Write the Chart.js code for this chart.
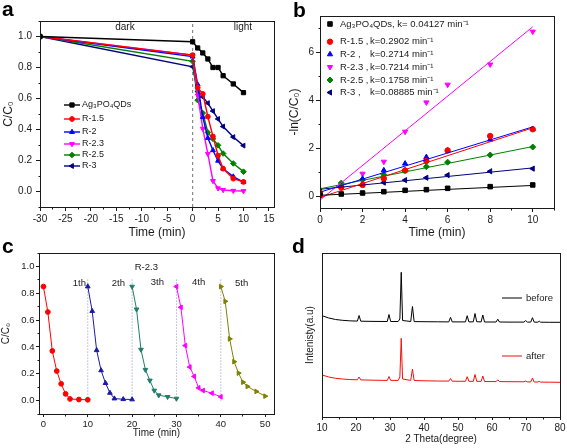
<!DOCTYPE html>
<html>
<head>
<meta charset="utf-8">
<script src="https://cdn.jsdelivr.net/npm/chart.js@4.4.1/dist/chart.umd.min.js"></script>
<style>
  body { margin: 0; background: #fff; }
  #wrap { position: relative; width: 567px; height: 448px; overflow: hidden; background: #fff; }
  canvas { position: absolute; }
  .tag { position: absolute; font: bold 21px 'Liberation Sans', Arial, sans-serif; line-height: 21px; color: #000; }
</style>
</head>
<body>
<div id="wrap">
  <canvas id="chartA" width="283" height="240" style="left:0;top:0;width:283px;height:240px"></canvas>
  <canvas id="chartB" width="284" height="240" style="left:283px;top:0;width:284px;height:240px"></canvas>
  <canvas id="chartC" width="283" height="208" style="left:0;top:240px;width:283px;height:208px"></canvas>
  <canvas id="chartD" width="284" height="208" style="left:283px;top:240px;width:284px;height:208px"></canvas>
  <div class="tag" style="left:2px;top:-2px">a</div>
  <div class="tag" style="left:293px;top:-1px">b</div>
  <div class="tag" style="left:2px;top:235px">c</div>
  <div class="tag" style="left:292px;top:235px">d</div>
</div>
<script>
const FONT = "'Liberation Sans', Arial, sans-serif";
const INK = '#1a1a1a';

// panel a - C/C0 in the dark, then under light
const timeA = [-30, 0, 1, 2, 3, 4, 5, 6, 8, 10];
const agA   = [1.00, 0.966, 0.926, 0.894, 0.855, 0.800, 0.800, 0.747, 0.694, 0.638];
const r15A  = [1.00, 0.880, 0.670, 0.630, 0.483, 0.355, 0.232, 0.147, 0.083, 0.062];
const r2A   = [1.00, 0.870, 0.690, 0.480, 0.345, 0.266, 0.198, 0.147, 0.096, 0.060];
const r23A  = [1.00, 0.880, 0.620, 0.405, 0.243, 0.068, 0.021, 0.010, 0.005, 0.003];
const r25A  = [1.00, 0.840, 0.589, 0.506, 0.381, 0.340, 0.298, 0.245, 0.181, 0.128];
const r3A   = [1.00, 0.805, 0.645, 0.610, 0.570, 0.519, 0.468, 0.419, 0.351, 0.296];
const xTicksA = [-30, -25, -20, -15, -10, -5, 0, 5, 10, 15];
const yTicksA = [0, 0.2, 0.4, 0.6, 0.8, 1.0];
const xRangeA = [-30, 16];
const yRangeA = [-0.1, 1.1];
const lightOnA = 0;

// panel b - -ln(C/C0) and linear fits
const timeB = [0, 1, 2, 3, 4, 5, 6, 8, 10];
const agB   = [0.035, 0.083, 0.125, 0.18, 0.236, 0.264, 0.32, 0.39, 0.46];
const r15B  = [0.13, 0.36, 0.46, 0.73, 1.06, 1.46, 1.90, 2.50, 2.78];
const r2B   = [0.14, 0.43, 0.72, 1.07, 1.35, 1.62, 1.90, 2.35, 2.79];
const r23B  = [0.13, 0.45, 0.93, 1.43, 2.68, 3.90, 4.64, 5.48, 6.85];
const r25B  = [0.17, 0.54, 0.68, 0.89, 1.07, 1.22, 1.41, 1.71, 2.04];
const r3B   = [0.22, 0.43, 0.47, 0.56, 0.66, 0.76, 0.87, 1.03, 1.14];
const fitX   = [0, 10];
const agFit  = [0.03, 0.44];
const r15Fit = [-0.06, 2.84];
const r2Fit  = [0.16, 2.88];
const r23Fit = [-0.17, 7.05];
const r25Fit = [0.30, 2.06];
const r3Fit  = [0.28, 1.17];
const xTicksB = [0, 2, 4, 6, 8, 10];
const yTicksB = [0, 2, 4, 6];
const xRangeB = [0, 11];
const yRangeB = [-0.5, 7.5];

// panel c - five reuse cycles of R-2.3
const runT1 = [0, 1, 2, 3, 4, 5, 6, 8, 10];
const runT2 = [10, 11, 12, 13, 14, 15, 16, 18, 20];
const runT3 = [20, 21, 22, 23, 24, 25, 26, 28, 30];
const runT4 = [30, 31, 32, 33, 34, 35, 36, 38, 40];
const runT5 = [40, 41, 42, 43, 44, 45, 46, 48, 50];
const run1 = [0.85, 0.66, 0.37, 0.22, 0.125, 0.05, 0.012, 0.008, 0.006];
const run2 = [0.85, 0.667, 0.375, 0.225, 0.13, 0.057, 0.015, 0.01, 0.008];
const run3 = [0.85, 0.68, 0.38, 0.23, 0.15, 0.075, 0.04, 0.028, 0.015];
const run4 = [0.85, 0.695, 0.41, 0.25, 0.18, 0.095, 0.075, 0.055, 0.028];
const run5 = [0.85, 0.74, 0.46, 0.29, 0.205, 0.137, 0.105, 0.068, 0.033];
const cycleStarts = [10, 20, 30, 40];
const cycleSpan = [0, 0.91];
const xTicksC = [0, 10, 20, 30, 40, 50];
const yTicksC = [0, 0.2, 0.4, 0.6, 0.8, 1.0];
const xRangeC = [-1, 52];
const yRangeC = [-0.1, 1.1];

// panel d - XRD before / after
const twoTheta = [10, 12, 14, 16, 18, 20.4, 20.9, 21.4, 25, 29.2, 29.7, 30.2, 32.4, 32.9, 33.3, 33.7,
  36.1, 36.6, 37.1, 40, 44, 47.3, 47.8, 48.3, 52.2, 52.7, 53.2, 54.5, 55.0, 55.5, 56.8, 57.3, 57.8,
  61.2, 61.7, 62.2, 65, 69.4, 69.9, 70.4, 71.4, 71.9, 72.4, 73.5, 73.9, 74.3, 77, 80];
const beforeI = [101.3, 99, 97.5, 96.7, 96.2, 95.9, 101.5, 95.8, 95.6, 95.5, 102.5, 95.5, 95.5, 98, 144.7, 96.5,
  95.5, 110.5, 95.4, 95.3, 95.2, 95.1, 99.7, 95.1, 95.1, 101.3, 95.1, 95.2, 103.5, 95.3, 95.1, 102, 95,
  95, 97.8, 95, 94.9, 94.9, 96.4, 94.9, 94.9, 99.3, 94.9, 94.8, 95.8, 94.8, 94.7, 94.7];
const afterI = [42, 40, 38.7, 38, 37.5, 37.2, 40, 37.1, 36.8, 36.6, 40.5, 36.6, 36.6, 40, 78.7, 38,
  36.6, 48, 36.5, 36.2, 36, 35.9, 38.5, 35.8, 35.7, 40.3, 35.7, 35.7, 42.5, 35.7, 35.6, 41, 35.5,
  35.4, 37.2, 35.4, 35.3, 35.2, 36, 35.1, 35.1, 39, 35, 35, 35.6, 34.9, 34.8, 34.7];
const xTicksD = [10, 20, 30, 40, 50, 60, 70, 80];
const xRangeD = [10, 80];
const yRangeD = [0, 164];

const pts = (xs, ys) => xs.map((x, i) => ({ x, y: ys[i] }));

function axis(o) {
  const horiz = o.pos === 'bottom';
  return {
    type: 'linear', position: o.pos, min: o.range[0], max: o.range[1],
    afterBuildTicks: s => { s.ticks = o.ticks.map(v => ({ value: v })); },
    afterFit: s => {
      if (horiz) s.height = o.box; else s.width = o.box;
      s.paddingLeft = s.paddingRight = s.paddingTop = s.paddingBottom = 0;
    },
    border: { display: false },
    grid: { display: true, drawOnChartArea: false, drawTicks: o.tick > 0, tickLength: o.tick || 0, tickColor: INK, tickWidth: 1 },
    ticks: { display: o.labels !== false, color: INK, font: { size: o.size }, padding: o.pad, maxRotation: 0, autoSkip: false, callback: o.fmt },
    title: { display: true, text: o.title, color: INK, font: { size: o.tSize }, padding: o.tPad }
  };
}

// box round the plot plus the short minor ticks
const framePlugin = {
  id: 'frame',
  afterDraw(chart, args, opts) {
    const { ctx, chartArea: a, scales } = chart;
    const al = p => Math.round(p - 0.5) + 0.5;
    const L = al(a.left), R = al(a.right), T = al(a.top), B = al(a.bottom);
    ctx.save();
    ctx.strokeStyle = INK;
    ctx.lineWidth = 1;
    ctx.strokeRect(L, T, R - L, B - T);
    const minor = (scale, step, horiz) => {
      if (!step) return;
      const k0 = Math.ceil(scale.min / step - 1e-9), k1 = Math.floor(scale.max / step + 1e-9);
      ctx.beginPath();
      for (let k = k0; k <= k1; k++) {
        const v = k * step;
        if (scale.ticks.some(t => Math.abs(t.value - v) < 1e-9)) continue;
        const p = al(scale.getPixelForValue(v));
        if (horiz) { ctx.moveTo(p, B); ctx.lineTo(p, B + 2); }
        else { ctx.moveTo(L, p); ctx.lineTo(L - 2, p); }
      }
      ctx.stroke();
    };
    minor(scales.x, opts.minorX, true);
    minor(scales.y, opts.minorY, false);
    ctx.restore();
  }
};

// in-plot key: line sample and/or marker, then text
const keyPlugin = {
  id: 'key',
  afterDraw(chart, args, o) {
    if (!o.rows) return;
    const ctx = chart.ctx;
    ctx.save();
    ctx.font = o.size + 'px ' + FONT;
    ctx.textBaseline = 'middle';
    let r = 0;
    chart.data.datasets.forEach(ds => {
      if (!ds.label) return;
      const y = o.rows[r++];
      ctx.strokeStyle = ds.borderColor;
      ctx.fillStyle = ds.borderColor;
      if (o.line) {
        ctx.lineWidth = ds.borderWidth;
        ctx.beginPath(); ctx.moveTo(o.line[0], y); ctx.lineTo(o.line[1], y); ctx.stroke();
      }
      if (ds.pointRadius > 0) {
        ctx.lineWidth = 1;
        Chart.helpers.drawPoint(ctx, { pointStyle: ds.pointStyle, radius: ds.pointRadius, rotation: ds.pointRotation || 0, borderWidth: 1 }, o.mark, y);
      }
      ctx.fillStyle = INK;
      const parts = ds.label.split('\t');
      ctx.fillText(parts[0], o.text, y);
      if (parts[1]) ctx.fillText(parts[1], o.tab, y);
    });
    ctx.restore();
  }
};

// free text placed in data units
const notePlugin = {
  id: 'notes',
  afterDatasetsDraw(chart, args, o) {
    if (!o.items) return;
    const { ctx, scales: { x, y } } = chart;
    ctx.save();
    ctx.font = o.size + 'px ' + FONT;
    ctx.fillStyle = INK;
    ctx.textAlign = 'center';
    ctx.textBaseline = 'middle';
    o.items.forEach(it => ctx.fillText(it.text, x.getPixelForValue(it.x), y.getPixelForValue(it.y)));
    ctx.restore();
  }
};

Chart.register(framePlugin, keyPlugin, notePlugin);
Chart.defaults.font.family = FONT;
Chart.defaults.color = INK;

const base = (pad) => ({
  responsive: false, animation: false, devicePixelRatio: 1,
  layout: { padding: pad },
  events: []
});

function series(label, xs, ys, color, style, rot, r, w) {
  return {
    label, data: pts(xs, ys), borderColor: color, backgroundColor: color,
    pointBackgroundColor: color, pointBorderColor: color, pointBorderWidth: 1,
    borderWidth: w || 1.4, pointRadius: r || 2.6, pointStyle: style, pointRotation: rot || 0, tension: 0
  };
}

// ---------- a ----------
new Chart(document.getElementById('chartA'), {
  type: 'line',
  data: {
    datasets: [
      series('Ag\u2083PO\u2084QDs', timeA, agA, '#000000', 'rect', 0, 3),
      series('R-1.5', timeA, r15A, '#ff0000', 'circle', 0, 2.4),
      series('R-2', timeA, r2A, '#0000ff', 'triangle', 0, 2.8),
      series('R-2.3', timeA, r23A, '#ff00ff', 'triangle', 180, 2.8),
      series('R-2.5', timeA, r25A, '#008000', 'rectRot', 0, 2.8),
      series('R-3', timeA, r3A, '#000080', 'triangle', 270, 2.8),
      { label: '', data: [{ x: lightOnA, y: yRangeA[0] }, { x: lightOnA, y: yRangeA[1] }],
        borderColor: '#8a8a8a', borderDash: [3, 3], borderWidth: 1.2, pointRadius: 0 }
    ]
  },
  options: Object.assign(base({ top: 21, right: 9, left: 0, bottom: 0 }), {
    scales: {
      x: axis({ pos: 'bottom', range: xRangeA, ticks: xTicksA, box: 33, tick: 4, pad: 2, size: 10,
                fmt: v => String(v), title: 'Time (min)', tSize: 12, tPad: { top: 0, bottom: 0 } }),
      y: axis({ pos: 'left', range: yRangeA, ticks: yTicksA, box: 40, tick: 4, pad: 4, size: 10,
                fmt: v => v.toFixed(1), title: 'C/C\u2080', tSize: 12, tPad: { top: 1.3, bottom: 0 } })
    },
    plugins: {
      legend: { display: false }, tooltip: { enabled: false },
      frame: { minorX: 2.5, minorY: 0.1 },
      key: { rows: [105, 119, 132, 144, 155, 166], line: [64, 80], mark: 72, text: 82, size: 9 },
      notes: { size: 10, items: [{ text: 'dark', x: -13.3, y: 1.058 }, { text: 'light', x: 9.9, y: 1.058 }] }
    }
  })
});

// ---------- b ----------
const dot = (label, ys, color, style, rot, r) => Object.assign(series(label, timeB, ys, color, style, rot, r), { showLine: false });
const fit = (ys, color) => ({ label: '', data: pts(fitX, ys), borderColor: color, borderWidth: 1, pointRadius: 0 });
new Chart(document.getElementById('chartB'), {
  type: 'line',
  data: {
    datasets: [
      fit(agFit, '#000000'), fit(r15Fit, '#ff0000'), fit(r2Fit, '#0000ff'),
      fit(r23Fit, '#ff00ff'), fit(r25Fit, '#008000'), fit(r3Fit, '#000080'),
      dot('Ag\u2083PO\u2084QDs, k= 0.04127 min\u207B\u00B9', agB, '#000000', 'rect', 0, 3.2),
      dot('R-1.5 , \tk=0.2902 min\u207B\u00B9', r15B, '#ff0000', 'circle', 0, 2.7),
      dot('R-2 ,\tk=0.2714 min\u207B\u00B9', r2B, '#0000ff', 'triangle', 0, 3),
      dot('R-2.3 ,\tk=0.7214 min\u207B\u00B9', r23B, '#ff00ff', 'triangle', 180, 3),
      dot('R-2.5 ,\tk=0.1758 min\u207B\u00B9', r25B, '#008000', 'rectRot', 0, 3),
      dot('R-3 ,\tk=0.08885 min\u207B\u00B9', r3B, '#000080', 'triangle', 270, 3)
    ]
  },
  options: Object.assign(base({ top: 16, right: 13, left: 0, bottom: 0 }), {
    scales: {
      x: axis({ pos: 'bottom', range: xRangeB, ticks: xTicksB, box: 32, tick: 4, pad: 2, size: 10,
                fmt: v => String(v), title: 'Time (min)', tSize: 12, tPad: { top: 0, bottom: 0 } }),
      y: axis({ pos: 'left', range: yRangeB, ticks: yTicksB, box: 37, tick: 4, pad: 2, size: 10,
                fmt: v => String(v), title: '-ln(C/C\u2080)', tSize: 12, tPad: { top: 4.8, bottom: 0 } })
    },
    plugins: {
      legend: { display: false }, tooltip: { enabled: false },
      frame: { minorX: 1, minorY: 1 },
      key: { rows: [24, 41.7, 54.3, 67, 80, 92.5], mark: 47, text: 57, tab: 87, size: 9.5 }
    }
  })
});

// ---------- c ----------
const dividers = cycleStarts.map(cx => ({
  label: '', data: [{ x: cx, y: cycleSpan[0] }, { x: cx, y: cycleSpan[1] }],
  borderColor: '#8f8fc4', borderDash: [1, 2], borderWidth: 1, pointRadius: 0
}));
new Chart(document.getElementById('chartC'), {
  type: 'line',
  data: {
    datasets: [
      series('1', runT1, run1, '#ff0000', 'circle', 0, 2.4, 1),
      series('2', runT2, run2, '#1a1aa8', 'triangle', 0, 2.7, 1),
      series('3', runT3, run3, '#1f7f6a', 'triangle', 180, 2.7, 1),
      series('4', runT4, run4, '#ff00ff', 'triangle', 270, 2.7, 1),
      series('5', runT5, run5, '#808000', 'triangle', 90, 2.7, 1)
    ].concat(dividers)
  },
  options: Object.assign(base({ top: 13, right: 9, left: 0, bottom: 0 }), {
    scales: {
      x: axis({ pos: 'bottom', range: xRangeC, ticks: xTicksC, box: 34, tick: 3, pad: 2, size: 9.5,
                fmt: v => String(v), title: 'Time (min)', tSize: 10, tPad: { top: 0, bottom: 9 } }),
      y: axis({ pos: 'left', range: yRangeC, ticks: yTicksC, box: 39, tick: 3, pad: 1.5, size: 9.5,
                fmt: v => v.toFixed(1), title: 'C/C\u2080', tSize: 10, tPad: { top: 0, bottom: 0 } })
    },
    plugins: {
      legend: { display: false }, tooltip: { enabled: false },
      frame: { minorX: 5, minorY: 0.1 },
      notes: { size: 9.5, items: [
        { text: 'R-2.3', x: 23.2, y: 0.99 },
        { text: '1th', x: 8.1, y: 0.876 }, { text: '2th', x: 16.9, y: 0.876 },
        { text: '3th', x: 25.7, y: 0.88 }, { text: '4th', x: 35, y: 0.88 }, { text: '5th', x: 44.7, y: 0.876 }
      ] }
    }
  })
});

// ---------- d ----------
new Chart(document.getElementById('chartD'), {
  type: 'line',
  data: {
    datasets: [
      { label: 'before', data: pts(twoTheta, beforeI), borderColor: '#000000', borderWidth: 1, pointRadius: 0, tension: 0 },
      { label: 'after', data: pts(twoTheta, afterI), borderColor: '#f01010', borderWidth: 1, pointRadius: 0, tension: 0 }
    ]
  },
  options: Object.assign(base({ top: 13, right: 7, left: 0, bottom: 0 }), {
    scales: {
      x: axis({ pos: 'bottom', range: xRangeD, ticks: xTicksD, box: 31, tick: 3, pad: 2, size: 10,
                fmt: v => String(v), title: '2 Theta(degree)', tSize: 10, tPad: { top: 0, bottom: 3 } }),
      y: axis({ pos: 'left', range: yRangeD, ticks: [0], box: 39, tick: 0, pad: 0, size: 10, labels: false,
                fmt: () => '', title: 'Intenisty(a.u)', tSize: 10, tPad: { top: 21, bottom: 0 } })
    },
    plugins: {
      legend: { display: false }, tooltip: { enabled: false },
      frame: { minorX: 5 },
      key: { rows: [58, 116], line: [219, 239], text: 243, size: 9.5 }
    }
  })
});
</script>
</body>
</html>
